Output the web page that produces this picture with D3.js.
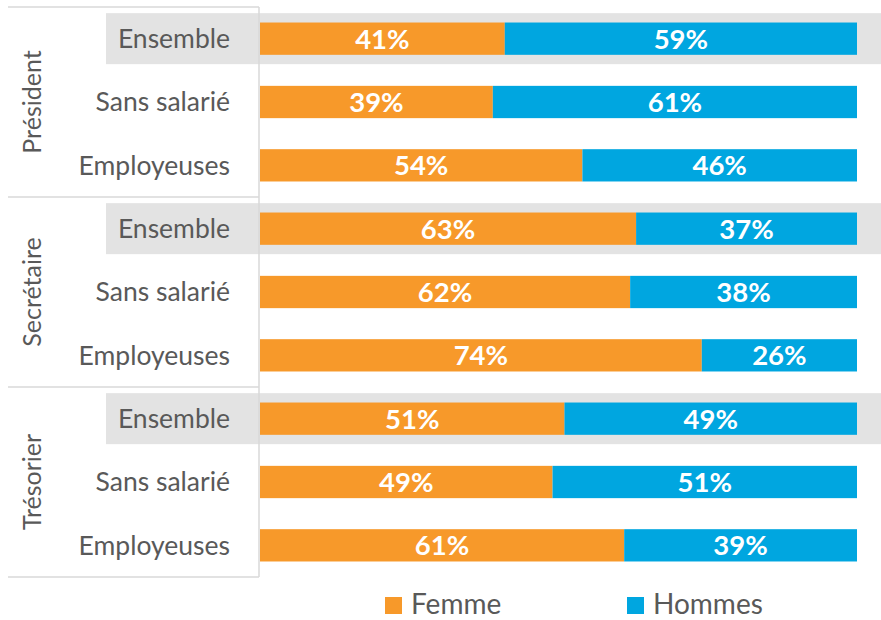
<!DOCTYPE html>
<html>
<head>
<meta charset="utf-8">
<script src="https://cdn.jsdelivr.net/npm/d3@7"></script>
<style>
  body { margin: 0; background: #fff; }
  text { font-family: Lato, "Open Sans", sans-serif; }
</style>
</head>
<body>
<svg id="chart"></svg>
<script>
const width = 881;
const height = 620;

const groups = ["Président", "Secrétaire", "Trésorier"];
const subgroups = ["Ensemble", "Sans salarié", "Employeuses"];
const femme = [41, 39, 54, 63, 62, 74, 51, 49, 61];
const hommes = [59, 61, 46, 37, 38, 26, 49, 51, 39];
const seriesNames = ["Femme", "Hommes"];
const colors = ["#F7992A", "#00A6E0"];

const rows = [];
groups.forEach((g, gi) => {
  subgroups.forEach((s, si) => {
    const i = gi * 3 + si;
    rows.push({ key: i, group: g, label: s, femme: femme[i], hommes: hommes[i] });
  });
});

const svg = d3.select("#chart").attr("width", width).attr("height", height);

const plotTop = 7, plotBottom = 577, axisX = 259;

const y = d3.scaleBand()
  .domain(rows.map(d => d.key))
  .range([plotTop, plotBottom])
  .paddingInner(0.49)
  .paddingOuter(0.245);

const yBand = d3.scaleBand()
  .domain(rows.map(d => d.key))
  .range([plotTop, plotBottom]);

const x = d3.scaleLinear().domain([0, 100]).range([260, 857]);

// grey background for "Ensemble" rows
svg.selectAll(".hl")
  .data(rows.filter(d => d.label === "Ensemble"))
  .enter()
  .append("rect")
  .attr("class", "hl")
  .attr("x", 106)
  .attr("y", d => yBand(d.key) + yBand.bandwidth() / 2 - 25.5)
  .attr("width", width - 106)
  .attr("height", 51)
  .attr("fill", "#E3E3E3");

// bars
const bar = svg.selectAll(".row")
  .data(rows)
  .enter()
  .append("g")
  .attr("class", "row");

bar.append("rect")
  .attr("x", x(0))
  .attr("y", d => y(d.key))
  .attr("width", d => x(d.femme) - x(0))
  .attr("height", y.bandwidth())
  .attr("fill", colors[0]);

bar.append("rect")
  .attr("x", d => x(d.femme))
  .attr("y", d => y(d.key))
  .attr("width", d => x(d.femme + d.hommes) - x(d.femme))
  .attr("height", y.bandwidth())
  .attr("fill", colors[1]);

bar.append("text")
  .attr("x", d => (x(0) + x(d.femme)) / 2)
  .attr("y", d => y(d.key) + y.bandwidth() / 2)
  .attr("dy", "0.36em")
  .attr("text-anchor", "middle")
  .attr("fill", "#fff")
  .attr("font-weight", "bold")
  .attr("font-size", 27.5)
  .text(d => d.femme + "%");

bar.append("text")
  .attr("x", d => (x(d.femme) + x(100)) / 2)
  .attr("y", d => y(d.key) + y.bandwidth() / 2)
  .attr("dy", "0.36em")
  .attr("text-anchor", "middle")
  .attr("fill", "#fff")
  .attr("font-weight", "bold")
  .attr("font-size", 27.5)
  .text(d => d.hommes + "%");

// row labels
bar.append("text")
  .attr("x", 230)
  .attr("y", d => yBand(d.key) + yBand.bandwidth() / 2)
  .attr("dy", "0.35em")
  .attr("text-anchor", "end")
  .attr("fill", "#595959")
  .attr("font-size", 26.5)
  .text(d => d.label);

// axis line and group separators
svg.append("line")
  .attr("x1", axisX).attr("x2", axisX)
  .attr("y1", plotTop).attr("y2", plotBottom)
  .attr("stroke", "#D9D9D9").attr("stroke-width", 1.5);

const groupY = d3.scaleBand().domain(groups).range([plotTop, plotBottom]);

svg.selectAll(".sep")
  .data([plotTop, ...groups.map(g => groupY(g) + groupY.bandwidth())])
  .enter()
  .append("line")
  .attr("x1", 8).attr("x2", axisX)
  .attr("y1", d => d).attr("y2", d => d)
  .attr("stroke", "#D9D9D9").attr("stroke-width", 1.5);

svg.selectAll(".grp")
  .data(groups)
  .enter()
  .append("text")
  .attr("transform", g => `translate(32, ${groupY(g) + groupY.bandwidth() / 2}) rotate(-90)`)
  .attr("dy", "0.36em")
  .attr("text-anchor", "middle")
  .attr("fill", "#595959")
  .attr("font-size", 25)
  .text(g => g);

// legend
const legendX = [385, 627];
const legend = svg.selectAll(".legend")
  .data(seriesNames)
  .enter()
  .append("g")
  .attr("transform", (d, i) => `translate(${legendX[i]}, 597)`);

legend.append("rect")
  .attr("width", 17).attr("height", 17)
  .attr("fill", (d, i) => colors[i]);

legend.append("text")
  .attr("x", 26)
  .attr("y", 17)
  .attr("fill", "#595959")
  .attr("font-size", 28)
  .text(d => d);
</script>
</body>
</html>
